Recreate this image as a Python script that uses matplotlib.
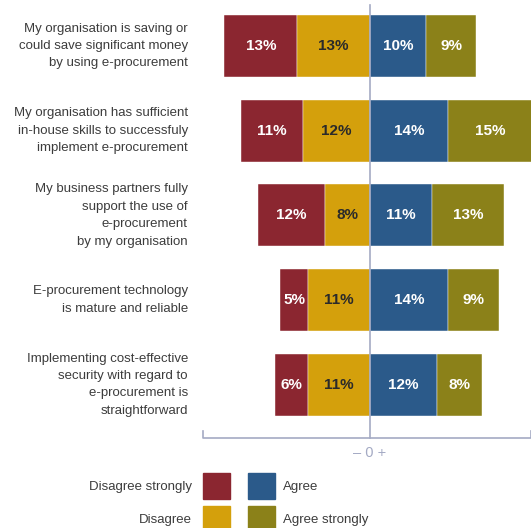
# -*- coding: utf-8 -*-

import matplotlib
matplotlib.use('Agg')
import matplotlib.pyplot as plt
from matplotlib.patches import Rectangle


plt.rcParams['font.family'] = ['Liberation Sans', 'DejaVu Sans']

# survey statements and answer shares [%]
statements = [
    'My organisation is saving or\ncould save significant money\nby using e-procurement',
    'My organisation has sufficient\nin-house skills to successfuly\nimplement e-procurement',
    'My business partners fully\nsupport the use of\ne-procurement\nby my organisation',
    'E-procurement technology\nis mature and reliable',
    'Implementing cost-effective\nsecurity with regard to\ne-procurement is\nstraightforward',
]
disagree_strongly = [13, 11, 12, 5, 6]
disagree = [13, 12, 8, 11, 11]
agree = [10, 14, 11, 14, 12]
agree_strongly = [9, 15, 13, 9, 8]

answers = ['Disagree strongly', 'Disagree', 'Agree', 'Agree strongly']
colors = ['#8b2630', '#d4a00c', '#2b5a8a', '#8b8119']
text_colors = ['white', '#2a2a2a', 'white', 'white']
axis_color = '#a4aac4'
label_color = '#3c3c3c'

# layout in pixels
W, H = 531, 528
X0 = 370.0       # pixel of the zero line
PX = 5.6         # pixels per percent
Y0 = 46.0        # pixel centre of first row
ROW = 84.7       # pixels between rows


def dx(px):
    return (px - X0) / PX


def dy(py):
    return (py - Y0) / ROW


fig = plt.figure(figsize=(W / 100, H / 100), dpi=100)
ax = fig.add_axes([0, 0, 1, 1])
ax.set_xlim(dx(0), dx(W))
ax.set_ylim(dy(H), dy(0))
ax.axis('off')

y = list(range(len(statements)))
h = 62 / ROW

# left side goes negative, right side positive
neg_inner = [-v for v in disagree]
neg_outer = [-v for v in disagree_strongly]

segments = [
    (disagree_strongly, neg_outer, neg_inner),
    (disagree, neg_inner, [0] * len(y)),
    (agree, agree, [0] * len(y)),
    (agree_strongly, agree_strongly, agree),
]

for k, (vals, widths, lefts) in enumerate(segments):
    ax.barh(y, widths, left=lefts, height=h, color=colors[k],
            edgecolor='white', linewidth=0.3, zorder=2)
    for i in y:
        xc = lefts[i] + widths[i] / 2
        ax.text(xc, i, '%d%%' % vals[i], ha='center', va='center',
                color=text_colors[k], fontsize=11, fontweight='bold',
                zorder=4)

# statements
for i, s in enumerate(statements):
    ax.text(dx(188), i, s, ha='right', va='center', fontsize=9.5,
            color=label_color, linespacing=1.6)

# zero line and bottom bracket
ax.plot([0, 0], [dy(5), dy(438)], color=axis_color, lw=1.2, zorder=3)
ax.plot([dx(203), dx(203), dx(530.5), dx(530.5)],
        [dy(431), dy(438), dy(438), dy(431)], color=axis_color, lw=1.2)
ax.text(0, dy(453), '\u2013 0 +', ha='center', va='center', fontsize=10.5,
        color=axis_color)

# legend
sq_x = [203, 203, 248, 248]
sq_y = [473, 506, 473, 506]
for k, name in enumerate(answers):
    ax.add_patch(Rectangle((dx(sq_x[k]), dy(sq_y[k])), 27 / PX, 26 / ROW,
                           color=colors[k], clip_on=False))
    ty = dy(sq_y[k] + 14)
    if k < 2:
        ax.text(dx(192), ty, name, ha='right', va='center', fontsize=9.5,
                color=label_color)
    else:
        ax.text(dx(283), ty, name, ha='left', va='center', fontsize=9.5,
                color=label_color)

fig.savefig('out.png', dpi=100)
